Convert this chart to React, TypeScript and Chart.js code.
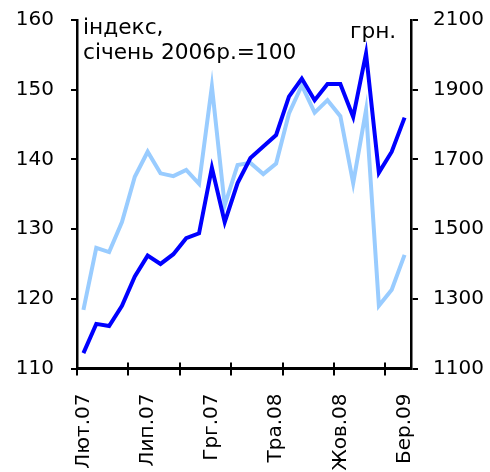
import React, { useEffect, useRef } from "react";
import { Chart, registerables } from "chart.js";

Chart.register(...registerables);

const monthLabels = [
  "Лют.07", "Бер.07", "Кві.07", "Тра.07", "Чер.07", "Лип.07", "Сер.07", "Вер.07", "Жов.07", "Лис.07",
  "Грг.07", "Січ.08", "Лют.08", "Бер.08", "Кві.08", "Тра.08", "Чер.08", "Лип.08", "Сер.08", "Вер.08",
  "Жов.08", "Лис.08", "Грг.08", "Січ.09", "Лют.09", "Бер.09",
];

// Nominal wage, UAH (right axis) – dark blue
const wageUah = [
  1144, 1228, 1222, 1280, 1364, 1424, 1400, 1428, 1474, 1488,
  1676, 1520, 1632, 1704, 1737, 1770, 1880, 1932, 1870, 1916,
  1916, 1822, 2004, 1662, 1722, 1820,
];

// Index, January 2006 = 100 (left axis) – light blue
const wageIndex = [
  118.4, 127.3, 126.7, 131.0, 137.5, 141.1, 138.0, 137.6, 138.5, 136.5,
  150.5, 133.4, 139.2, 139.5, 137.9, 139.4, 146.6, 150.6, 146.7, 148.5,
  146.2, 136.6, 147.1, 119.0, 121.3, 126.3,
];

const leftTicks = { min: 110, max: 160, step: 10 };
const rightTicks = { min: 1100, max: 2100, step: 200 };
const labelEvery = 5;
const tickEvery = 4;

const FONT = '"DejaVu Sans", Verdana, sans-serif';

const overlayPlugin = {
  id: "overlay",
  afterDraw(chart: any) {
    const ctx = chart.ctx;
    const xs = chart.scales.x;
    const area = chart.chartArea;
    const step = xs.getPixelForValue(1) - xs.getPixelForValue(0);
    ctx.save();
    ctx.strokeStyle = "#000";
    ctx.lineWidth = 2;
    for (let i = 0; i < monthLabels.length; i += tickEvery) {
      const px = Math.round(xs.getPixelForValue(i) - step / 2);
      ctx.beginPath();
      ctx.moveTo(px, area.bottom - 6);
      ctx.lineTo(px, area.bottom + 7);
      ctx.stroke();
    }
    ctx.fillStyle = "#000";
    ctx.font = `21.7px ${FONT}`;
    ctx.textBaseline = "alphabetic";
    ctx.textAlign = "left";
    ctx.fillText("індекс,", area.left + 6, area.top + 13.5);
    ctx.fillText("січень 2006р.=100", area.left + 6, area.top + 38.5);
    ctx.fillText("грн.", area.right - 61, area.top + 17.5);
    ctx.restore();
  },
};

const noPad = (s: any) => {
  s.paddingTop = 0;
  s.paddingBottom = 0;
};

export default function App() {
  const canvasRef = useRef<HTMLCanvasElement | null>(null);

  useEffect(() => {
    if (!canvasRef.current) return;
    const chart = new Chart(canvasRef.current, {
      type: "line",
      data: {
        labels: monthLabels,
        datasets: [
          {
            label: "грн.",
            data: wageUah,
            yAxisID: "y1",
            borderColor: "#0000ff",
            backgroundColor: "#0000ff",
            borderWidth: 4,
            pointRadius: 0,
            tension: 0,
            borderJoinStyle: "miter",
          },
          {
            label: "індекс",
            data: wageIndex,
            yAxisID: "y",
            borderColor: "#99ccff",
            backgroundColor: "#99ccff",
            borderWidth: 4,
            pointRadius: 0,
            tension: 0,
            borderJoinStyle: "miter",
          },
        ],
      },
      options: {
        animation: false,
        responsive: true,
        maintainAspectRatio: false,
        layout: { padding: { top: 20, left: 0, right: 0, bottom: 0 } },
        plugins: {
          legend: { display: false },
          tooltip: { enabled: false },
        },
        scales: {
          x: {
            type: "category",
            offset: true,
            grid: { display: false, drawTicks: false },
            border: { display: true, color: "#000", width: 3 },
            ticks: {
              autoSkip: false,
              maxRotation: 90,
              minRotation: 90,
              padding: 25,
              color: "#000",
              font: { family: FONT, size: 20 },
              callback: (_v: any, i: number) => (i % labelEvery === 0 ? monthLabels[i] : ""),
            },
            afterFit: (s: any) => {
              s.height = 103.5;
              s.paddingLeft = 0;
              s.paddingRight = 0;
            },
          },
          y: {
            position: "left",
            min: leftTicks.min,
            max: leftTicks.max,
            ticks: {
              stepSize: leftTicks.step,
              color: "#000",
              padding: 17,
              font: { family: FONT, size: 20 },
              callback: (v: any) => String(v),
            },
            grid: { drawOnChartArea: false, drawTicks: true, tickLength: 6, color: "#000", lineWidth: 2 },
            border: { display: true, color: "#000", width: 2.5 },
            afterFit: (s: any) => {
              s.width = 77;
              noPad(s);
            },
          },
          y1: {
            position: "right",
            min: rightTicks.min,
            max: rightTicks.max,
            ticks: {
              stepSize: rightTicks.step,
              color: "#000",
              padding: 15,
              font: { family: FONT, size: 20 },
              callback: (v: any) => String(v),
            },
            grid: { drawOnChartArea: false, drawTicks: true, tickLength: 7, color: "#000", lineWidth: 2 },
            border: { display: true, color: "#000", width: 2.5 },
            afterFit: (s: any) => {
              s.width = 79;
              noPad(s);
            },
          },
        },
      },
      plugins: [overlayPlugin],
    } as any);
    return () => chart.destroy();
  }, []);

  return (
    <div
      style={{
        position: "fixed",
        left: 0,
        top: 0,
        width: 490,
        height: 472,
        overflow: "hidden",
        background: "#fff",
      }}
    >
      <canvas ref={canvasRef} />
    </div>
  );
}
